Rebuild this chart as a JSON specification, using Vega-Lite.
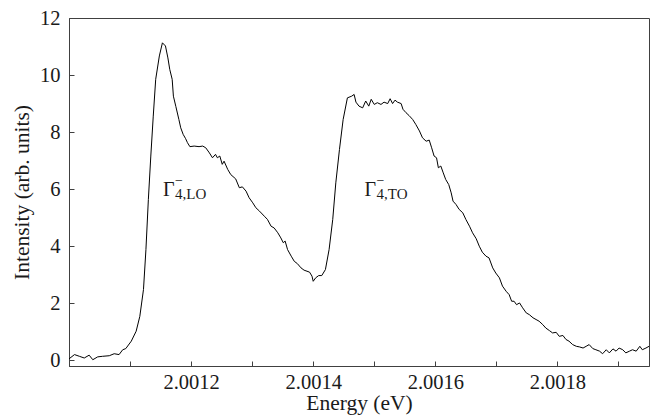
{
  "$schema": "https://vega.github.io/schema/vega-lite/v6.json",
  "width": 580,
  "height": 348,
  "autosize": {"type": "none"},
  "padding": {"left": 69, "top": 18, "right": 15, "bottom": 50},
  "background": "white",
  "config": {
    "view": {"stroke": "#404040", "strokeWidth": 1},
    "font": "Liberation Serif",
    "axis": {
      "grid": false,
      "labelFont": "Liberation Serif",
      "titleFont": "Liberation Serif",
      "labelColor": "#1a1a1a",
      "titleColor": "#1a1a1a",
      "labelFontSize": 20.5,
      "titleFontSize": 21.5,
      "titleFontWeight": "normal",
      "labelOverlap": false,
      "labelFlush": false,
      "labelBound": false
    }
  },
  "datasets": {
    "spectrum": [
      {"E": 2.001000, "I": 0.05},
      {"E": 2.001009, "I": 0.2},
      {"E": 2.001017, "I": 0.14},
      {"E": 2.001025, "I": 0.08},
      {"E": 2.001033, "I": 0.18},
      {"E": 2.001039, "I": 0.02},
      {"E": 2.001047, "I": 0.12},
      {"E": 2.001055, "I": 0.14},
      {"E": 2.001066, "I": 0.16},
      {"E": 2.001074, "I": 0.23},
      {"E": 2.001082, "I": 0.2},
      {"E": 2.001088, "I": 0.37},
      {"E": 2.001093, "I": 0.41},
      {"E": 2.001102, "I": 0.67},
      {"E": 2.001110, "I": 1.02},
      {"E": 2.001116, "I": 1.54},
      {"E": 2.001122, "I": 2.48},
      {"E": 2.001126, "I": 3.88},
      {"E": 2.001130, "I": 5.64},
      {"E": 2.001134, "I": 7.16},
      {"E": 2.001138, "I": 8.56},
      {"E": 2.001142, "I": 9.85},
      {"E": 2.001148, "I": 10.67},
      {"E": 2.001153, "I": 11.13},
      {"E": 2.001158, "I": 11.02},
      {"E": 2.001162, "I": 10.6},
      {"E": 2.001165, "I": 10.2},
      {"E": 2.001169, "I": 9.85},
      {"E": 2.001171, "I": 9.26},
      {"E": 2.001175, "I": 8.9},
      {"E": 2.001180, "I": 8.44},
      {"E": 2.001183, "I": 8.15},
      {"E": 2.001187, "I": 7.92},
      {"E": 2.001191, "I": 7.77},
      {"E": 2.001194, "I": 7.63},
      {"E": 2.001198, "I": 7.49},
      {"E": 2.001205, "I": 7.51},
      {"E": 2.001213, "I": 7.49},
      {"E": 2.001219, "I": 7.51},
      {"E": 2.001224, "I": 7.45},
      {"E": 2.001230, "I": 7.27},
      {"E": 2.001235, "I": 7.1},
      {"E": 2.001240, "I": 7.22},
      {"E": 2.001243, "I": 7.1},
      {"E": 2.001247, "I": 7.16},
      {"E": 2.001251, "I": 6.87},
      {"E": 2.001254, "I": 6.98},
      {"E": 2.001260, "I": 6.69},
      {"E": 2.001265, "I": 6.51},
      {"E": 2.001273, "I": 6.36},
      {"E": 2.001279, "I": 6.05},
      {"E": 2.001284, "I": 6.08},
      {"E": 2.001290, "I": 5.93},
      {"E": 2.001295, "I": 5.7},
      {"E": 2.001301, "I": 5.52},
      {"E": 2.001306, "I": 5.35},
      {"E": 2.001312, "I": 5.23},
      {"E": 2.001320, "I": 5.05},
      {"E": 2.001325, "I": 4.94},
      {"E": 2.001331, "I": 4.7},
      {"E": 2.001336, "I": 4.64},
      {"E": 2.001342, "I": 4.47},
      {"E": 2.001347, "I": 4.29},
      {"E": 2.001351, "I": 4.12},
      {"E": 2.001354, "I": 4.18},
      {"E": 2.001358, "I": 3.88},
      {"E": 2.001364, "I": 3.65},
      {"E": 2.001369, "I": 3.47},
      {"E": 2.001374, "I": 3.39},
      {"E": 2.001380, "I": 3.24},
      {"E": 2.001385, "I": 3.16},
      {"E": 2.001394, "I": 3.09},
      {"E": 2.001398, "I": 2.95},
      {"E": 2.001400, "I": 2.77},
      {"E": 2.001404, "I": 2.89},
      {"E": 2.001409, "I": 2.97},
      {"E": 2.001414, "I": 2.97},
      {"E": 2.001420, "I": 3.18},
      {"E": 2.001426, "I": 3.88},
      {"E": 2.001432, "I": 4.94},
      {"E": 2.001437, "I": 6.22},
      {"E": 2.001443, "I": 7.39},
      {"E": 2.001449, "I": 8.44},
      {"E": 2.001456, "I": 9.2},
      {"E": 2.001463, "I": 9.26},
      {"E": 2.001467, "I": 9.32},
      {"E": 2.001470, "I": 9.05},
      {"E": 2.001475, "I": 8.91},
      {"E": 2.001481, "I": 8.85},
      {"E": 2.001486, "I": 9.09},
      {"E": 2.001491, "I": 8.91},
      {"E": 2.001495, "I": 9.15},
      {"E": 2.001500, "I": 8.97},
      {"E": 2.001505, "I": 9.03},
      {"E": 2.001511, "I": 8.97},
      {"E": 2.001516, "I": 9.05},
      {"E": 2.001522, "I": 9.0},
      {"E": 2.001526, "I": 9.17},
      {"E": 2.001530, "I": 9.0},
      {"E": 2.001534, "I": 9.12},
      {"E": 2.001538, "I": 9.05},
      {"E": 2.001544, "I": 9.0},
      {"E": 2.001547, "I": 8.8},
      {"E": 2.001552, "I": 8.68},
      {"E": 2.001557, "I": 8.58},
      {"E": 2.001563, "I": 8.44},
      {"E": 2.001568, "I": 8.27},
      {"E": 2.001574, "I": 8.04},
      {"E": 2.001579, "I": 7.8},
      {"E": 2.001585, "I": 7.68},
      {"E": 2.001590, "I": 7.72},
      {"E": 2.001594, "I": 7.45},
      {"E": 2.001598, "I": 7.16},
      {"E": 2.001602, "I": 7.1},
      {"E": 2.001605, "I": 6.75},
      {"E": 2.001609, "I": 6.81},
      {"E": 2.001613, "I": 6.57},
      {"E": 2.001617, "I": 6.34},
      {"E": 2.001622, "I": 6.16},
      {"E": 2.001626, "I": 5.87},
      {"E": 2.001629, "I": 5.58},
      {"E": 2.001634, "I": 5.46},
      {"E": 2.001639, "I": 5.29},
      {"E": 2.001645, "I": 5.17},
      {"E": 2.001650, "I": 4.94},
      {"E": 2.001656, "I": 4.7},
      {"E": 2.001661, "I": 4.47},
      {"E": 2.001667, "I": 4.26},
      {"E": 2.001672, "I": 4.0},
      {"E": 2.001677, "I": 3.79},
      {"E": 2.001683, "I": 3.65},
      {"E": 2.001688, "I": 3.59},
      {"E": 2.001694, "I": 3.24},
      {"E": 2.001699, "I": 3.06},
      {"E": 2.001705, "I": 2.89},
      {"E": 2.001710, "I": 2.6},
      {"E": 2.001716, "I": 2.42},
      {"E": 2.001721, "I": 2.3},
      {"E": 2.001725, "I": 2.07},
      {"E": 2.001729, "I": 2.07},
      {"E": 2.001733, "I": 1.95},
      {"E": 2.001738, "I": 2.01},
      {"E": 2.001743, "I": 1.84},
      {"E": 2.001749, "I": 1.66},
      {"E": 2.001754, "I": 1.6},
      {"E": 2.001760, "I": 1.49},
      {"E": 2.001765, "I": 1.43},
      {"E": 2.001770, "I": 1.37},
      {"E": 2.001776, "I": 1.25},
      {"E": 2.001781, "I": 1.13},
      {"E": 2.001787, "I": 1.04},
      {"E": 2.001792, "I": 0.96},
      {"E": 2.001798, "I": 0.98},
      {"E": 2.001803, "I": 0.84},
      {"E": 2.001809, "I": 0.87},
      {"E": 2.001814, "I": 0.73},
      {"E": 2.001819, "I": 0.67},
      {"E": 2.001825, "I": 0.55},
      {"E": 2.001831, "I": 0.49},
      {"E": 2.001836, "I": 0.47},
      {"E": 2.001842, "I": 0.43},
      {"E": 2.001847, "I": 0.49},
      {"E": 2.001852, "I": 0.55},
      {"E": 2.001858, "I": 0.41},
      {"E": 2.001863, "I": 0.37},
      {"E": 2.001869, "I": 0.32},
      {"E": 2.001874, "I": 0.23},
      {"E": 2.001880, "I": 0.37},
      {"E": 2.001885, "I": 0.26},
      {"E": 2.001891, "I": 0.4},
      {"E": 2.001896, "I": 0.32},
      {"E": 2.001901, "I": 0.43},
      {"E": 2.001907, "I": 0.37},
      {"E": 2.001912, "I": 0.26},
      {"E": 2.001918, "I": 0.32},
      {"E": 2.001923, "I": 0.37},
      {"E": 2.001929, "I": 0.32},
      {"E": 2.001935, "I": 0.49},
      {"E": 2.001939, "I": 0.37},
      {"E": 2.001945, "I": 0.43},
      {"E": 2.001950, "I": 0.49}
    ],
    "labels": [
      {"E": 2.001154, "I": 5.75, "main": "Γ", "sup": "−", "sub": "4,LO"},
      {"E": 2.001484, "I": 5.75, "main": "Γ", "sup": "−", "sub": "4,TO"}
    ]
  },
  "layer": [
    {
      "data": {"name": "spectrum"},
      "mark": {"type": "line", "color": "black", "strokeWidth": 1, "interpolate": "linear"},
      "encoding": {
        "x": {
          "field": "E", "type": "quantitative",
          "scale": {"domain": [2.001, 2.00195], "nice": false, "zero": false},
          "axis": {
            "orient": "bottom",
            "title": "Energy (eV)",
            "values": [2.001, 2.00105, 2.0011, 2.00115, 2.0012, 2.00125, 2.0013, 2.00135, 2.0014, 2.00145, 2.0015, 2.00155, 2.0016, 2.00165, 2.0017, 2.00175, 2.0018, 2.00185, 2.0019, 2.00195],
            "labelExpr": "(round((datum.value - 2) * 20000) % 4 === 0 && datum.value > 2.00105 && datum.value < 2.0019) ? format(datum.value, '.4f') : ''",
            "domainColor": "#404040",
            "tickColor": "#404040",
            "tickWidth": 1,
            "tickSize": -5,
            "labelPadding": 11,
            "titlePadding": 0
          }
        },
        "y": {
          "field": "I", "type": "quantitative",
          "scale": {"domain": [-0.2, 12], "nice": false, "zero": false},
          "axis": {
            "orient": "left",
            "title": "Intensity (arb. units)",
            "values": [0, 0.5, 1, 1.5, 2, 2.5, 3, 3.5, 4, 4.5, 5, 5.5, 6, 6.5, 7, 7.5, 8, 8.5, 9, 9.5, 10, 10.5, 11, 11.5, 12],
            "labelExpr": "datum.value % 2 === 0 ? format(datum.value, 'd') : ''",
            "domainColor": "#404040",
            "tickColor": "#404040",
            "tickWidth": 1,
            "tickSize": -5,
            "labelPadding": 14,
            "titlePadding": 6
          }
        }
      }
    },
    {
      "data": {"name": "labels"},
      "mark": {"type": "text", "align": "left", "baseline": "alphabetic", "fontSize": 20, "font": "Liberation Serif", "color": "#1a1a1a"},
      "encoding": {
        "x": {"field": "E", "type": "quantitative"},
        "y": {"field": "I", "type": "quantitative"},
        "text": {"field": "main"}
      }
    },
    {
      "data": {"name": "labels"},
      "mark": {"type": "text", "align": "left", "baseline": "alphabetic", "fontSize": 14, "font": "Liberation Serif", "color": "#1a1a1a", "dx": 12, "dy": -11},
      "encoding": {
        "x": {"field": "E", "type": "quantitative"},
        "y": {"field": "I", "type": "quantitative"},
        "text": {"field": "sup"}
      }
    },
    {
      "data": {"name": "labels"},
      "mark": {"type": "text", "align": "left", "baseline": "alphabetic", "fontSize": 15, "font": "Liberation Serif", "color": "#1a1a1a", "dx": 12, "dy": 3},
      "encoding": {
        "x": {"field": "E", "type": "quantitative"},
        "y": {"field": "I", "type": "quantitative"},
        "text": {"field": "sub"}
      }
    }
  ]
}
